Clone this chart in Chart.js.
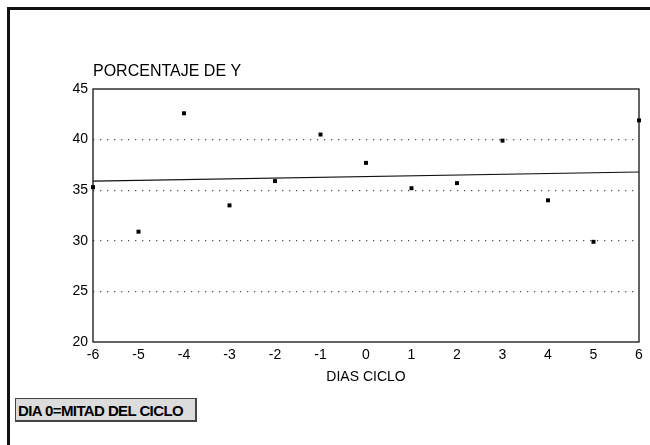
<!DOCTYPE html>
<html lang="es">
<head>
    <meta charset="UTF-8">
    <title>Porcentaje de Y</title>
    <script src="https://cdn.jsdelivr.net/npm/chart.js"></script>
    <style>
        html, body { margin: 0; padding: 0; background: #fff; overflow: hidden; }
        .marco {
            position: relative;
            width: 650px;
            height: 445px;
            overflow: hidden;
            font-family: "Liberation Sans", Arial, sans-serif;
        }
        .borde {
            position: absolute;
            left: 7px; top: 7px;
            width: 640px; height: 500px;
            border-left: 3px solid #111;
            border-top: 3px solid #111;
            border-right: 1px solid #ddd;
        }
        .nota {
            position: absolute;
            left: 15px; top: 398px;
            width: 182px; height: 24px;
            line-height: 23px;
            border: 1px solid #444;
            border-right-width: 2px;
            border-bottom-width: 2px;
            background: #dcdcdc;
            font-size: 15px;
            font-weight: bold;
            letter-spacing: -0.6px;
            color: #000;
            padding-left: 2px;
            box-sizing: border-box;
            white-space: nowrap;
        }
        canvas { position: absolute; left: 0; top: 0; }
    </style>
</head>
<body>
<div class="marco">
    <canvas id="graficoCiclo" width="650" height="445"></canvas>
    <div class="borde"></div>
    <div class="nota">DIA 0=MITAD DEL CICLO</div>
</div>

<script>
    // valores
    const dias = [-6, -5, -4, -3, -2, -1, 0, 1, 2, 3, 4, 5, 6];
    const porcentajes = [35.3, 30.9, 42.6, 33.5, 35.9, 40.5, 37.7, 35.2, 35.7, 39.9, 34.0, 29.9, 41.9];

    // recta de tendencia (extremos)
    const tendenciaX = [-6, 6];
    const tendenciaY = [35.9, 36.8];

    const tituloY = 'PORCENTAJE DE Y';
    const tituloX = 'DIAS CICLO';

    const fuente = '"Liberation Sans", Arial, sans-serif';

    // marco del area + titulos
    const extras = {
        id: 'extras',
        beforeDatasetsDraw(chart) {
            const { ctx, chartArea: a } = chart;
            ctx.save();
            ctx.strokeStyle = '#111';
            ctx.lineWidth = 1.3;
            ctx.strokeRect(a.left, a.top, a.right - a.left, a.bottom - a.top);
            ctx.restore();
        },
        afterDraw(chart) {
            const { ctx, chartArea: a } = chart;
            ctx.save();
            ctx.fillStyle = '#000';
            ctx.font = '16px ' + fuente;
            ctx.textAlign = 'left';
            ctx.textBaseline = 'alphabetic';
            ctx.fillText(tituloY, a.left, a.top - 13);
            ctx.font = '14px ' + fuente;
            ctx.textAlign = 'center';
            ctx.textBaseline = 'middle';
            ctx.fillText(tituloX, (a.left + a.right) / 2, a.bottom + 35);
            ctx.restore();
        }
    };

    new Chart(document.getElementById('graficoCiclo'), {
        type: 'scatter',
        data: {
            datasets: [{
                label: 'Porcentaje',
                data: dias.map((d, i) => ({ x: d, y: porcentajes[i] })),
                pointStyle: 'rect',
                pointRadius: 2.8,
                backgroundColor: '#000',
                borderColor: '#000',
                borderWidth: 0,
                clip: false
            }, {
                label: 'Tendencia',
                type: 'line',
                data: tendenciaX.map((d, i) => ({ x: d, y: tendenciaY[i] })),
                borderColor: '#111',
                borderWidth: 1.2,
                pointRadius: 0,
                fill: false
            }]
        },
        options: {
            responsive: false,
            animation: false,
            layout: { padding: { top: 89, right: 11, left: 0, bottom: 0 } },
            plugins: {
                legend: { display: false },
                tooltip: { enabled: false }
            },
            scales: {
                x: {
                    type: 'linear',
                    min: -6,
                    max: 6,
                    afterFit: s => { s.height = 103; },
                    border: { display: false },
                    grid: { display: false, drawTicks: false },
                    ticks: {
                        stepSize: 1,
                        padding: 5,
                        color: '#000',
                        font: { family: fuente, size: 14 }
                    }
                },
                y: {
                    min: 20,
                    max: 45,
                    afterFit: s => { s.width = 93; },
                    border: { display: false, dash: [1.3, 5.7] },
                    grid: {
                        drawTicks: false,
                        color: c => (c.tick.value === 20 || c.tick.value === 45) ? 'rgba(0,0,0,0)' : '#555',
                        lineWidth: 1.3
                    },
                    ticks: {
                        stepSize: 5,
                        padding: 5,
                        color: '#000',
                        font: { family: fuente, size: 14 }
                    }
                }
            }
        },
        plugins: [extras]
    });
</script>
</body>
</html>
